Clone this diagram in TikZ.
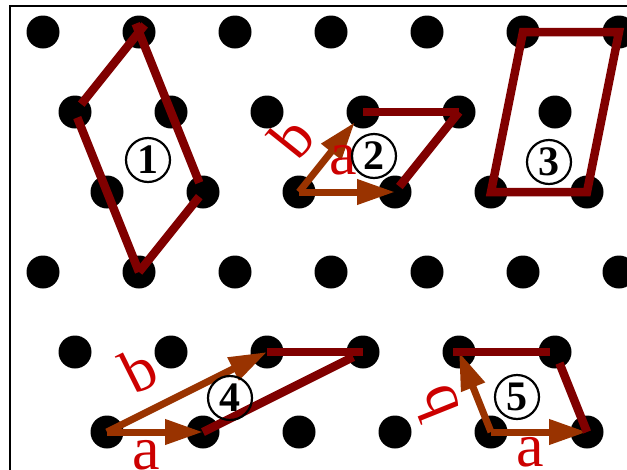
\documentclass[tikz,border=0pt]{standalone}
\usepackage{fontspec}
\setmainfont{Liberation Serif}
\usepackage{xcolor}
\usepackage{tikz}
\usetikzlibrary{arrows.meta,calc}
\definecolor{edgered}{RGB}{128,0,0}
\definecolor{vecbrown}{RGB}{153,51,0}
\definecolor{labelred}{RGB}{204,0,0}

\begin{document}
\begin{tikzpicture}[x=1pt,y=-1pt]
        \tikzstyle{cell edge}=[draw=edgered, line width=8.5pt];
        \tikzstyle{basis vec}=[draw=vecbrown, line width=7pt, -{Triangle[length=38pt,width=24pt]}];
        \tikzstyle{vec label}=[text=labelred, inner sep=0pt, font=\fontsize{62}{62}\selectfont];
        \tikzstyle{cell num}=[circle, draw, line width=2.2pt, minimum size=44pt, inner sep=0pt, font=\fontsize{42}{42}\selectfont\bfseries];

        % Fix the picture size and keep everything inside it
        \useasboundingbox (0,0) rectangle (627,469);
        \clip (0,0) rectangle (627,469);

        % Frame, its right and bottom sides lie outside the picture
        \draw[line width=2.5pt] (10,500) |- (660,6);

        % Lattice points, each row shifted by a third of the spacing
        \foreach \r in {0,...,5} {
            \foreach \k in {0,...,6} {
                \pgfmathsetmacro{\px}{43+32*mod(\r,3)+96*\k}
                \pgfmathsetmacro{\py}{32+80*\r}
                \coordinate (d-\r-\k) at (\px,\py);
                \fill (d-\r-\k) circle[radius=16.5pt];
            }
        }

        % Cell 1
        \draw[cell edge, shorten <=-9pt, shorten >=10pt] (d-0-1) -- (d-1-0);
        \draw[cell edge, shorten <=6pt] (d-1-0) -- (d-3-1);
        \draw[cell edge, shorten <=-9pt, shorten >=10pt] (d-0-1) -- (d-2-1);
        \draw[cell edge, shorten <=6pt] (d-2-1) -- (d-3-1);
        \node[cell num] (n1) at (148,160) {1};

        % Cell 2
        \draw[basis vec] (d-2-2) -- (d-2-3);
        \draw[basis vec, shorten >=13pt] (d-2-2) -- (d-1-3);
        \draw[cell edge] (d-1-3) -- (d-1-4);
        \draw[cell edge, shorten >=7pt] (d-1-4) -- (d-2-3);
        \node[vec label, rotate=51.3] (b2) at (292,137) {b};
        \node[vec label] (a2) at (343,160) {a};
        \node[cell num] (n2) at (374,156) {2};

        % Cell 3
        \draw[cell edge] (d-2-4) -- (d-2-5) -- (d-0-6) -- (d-0-5) -- cycle;
        \node[cell num] (n3) at (549,162) {3};

        % Cell 4
        \draw[basis vec] (d-5-0) -- (d-5-1);
        \draw[basis vec] (d-5-0) -- (d-4-2);
        \draw[cell edge] (d-4-2) -- (d-4-3);
        \draw[cell edge, shorten <=11pt] (d-4-3) -- (d-5-1);
        \node[vec label, rotate=26.6] (b4) at (139,370) {b};
        \node[vec label] (a4) at (146,455) {a};
        \node[cell num] (n4) at (230,398) {4};

        % Cell 5
        \draw[basis vec] (d-5-4) -- (d-5-5);
        \draw[basis vec] (d-5-4) -- (d-4-4);
        \draw[cell edge, shorten <=-6pt, shorten >=5pt] (d-4-4) -- (d-4-5);
        \draw[cell edge, shorten <=12pt] (d-4-5) -- (d-5-5);
        \node[vec label, rotate=111.8] (b5) at (436,403) {b};
        \node[vec label] (a5) at (530,452) {a};
        \node[cell num] (n5) at (517,397) {5};
    \end{tikzpicture}
\end{document}
